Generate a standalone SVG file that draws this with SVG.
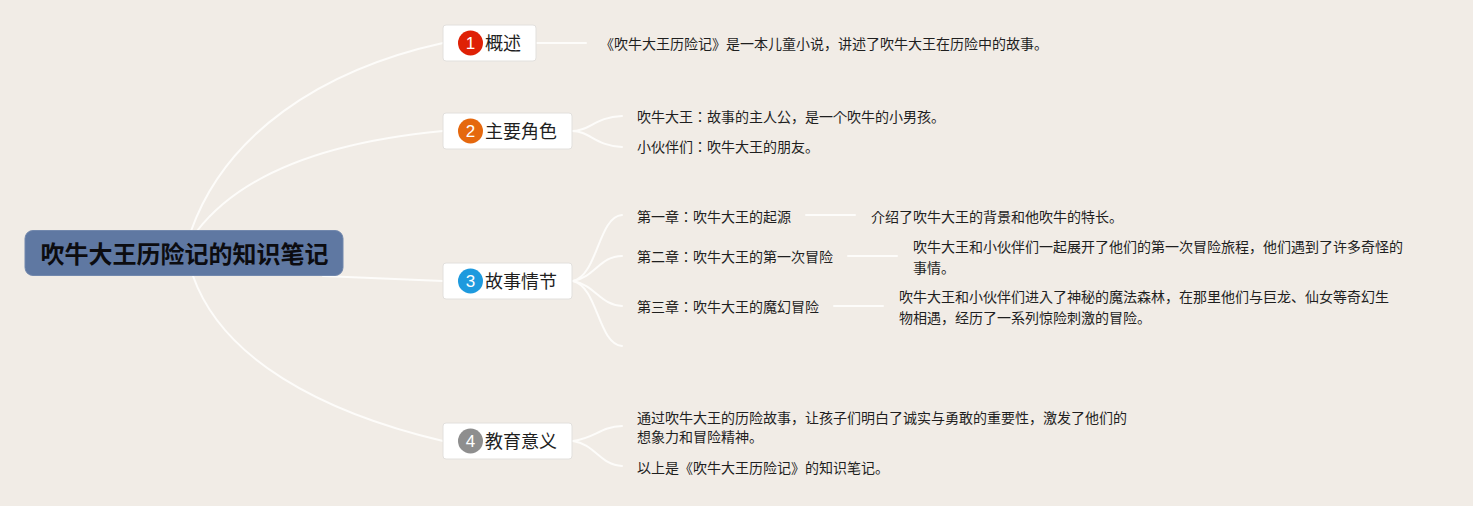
<svg xmlns="http://www.w3.org/2000/svg" width="1473" height="506" viewBox="0 0 1473 506">
<style>
text{font-family:"Noto Sans CJK JP","Noto Sans",sans-serif;fill:#1f1f1f}
.c{fill:none;stroke:#fdfcfa;stroke-width:2;stroke-linecap:round}
.box{fill:#fff;stroke:#e2e0dd;stroke-width:1}
.t{font-size:18px}
.s{font-size:14px}
.n{font-size:17px;fill:#fff;text-anchor:middle;font-family:"Liberation Sans",sans-serif}
</style>
<rect width="1473" height="506" fill="#f1ece6"/>
<g id="connectors">
<path class="c" d="M191 231C225 135 320 70 443 43"/>
<path class="c" d="M197 231C238 178 315 143 443 131"/>
<path class="c" d="M323 276L443 281"/>
<path class="c" d="M193 276C222 358 320 412 443 441"/>
<path class="c" d="M537 43H586"/>
<path class="c" d="M572 131C590 131 595 117 622 116"/>
<path class="c" d="M572 131C590 131 595 146 622 147"/>
<path class="c" d="M573 281C598 275 598 217 622 215"/>
<path class="c" d="M573 281C595 277 600 256 622 256"/>
<path class="c" d="M573 281C595 285 600 305 622 306"/>
<path class="c" d="M573 281C598 287 598 344 622 346"/>
<path class="c" d="M806 215H855"/>
<path class="c" d="M848 256H897"/>
<path class="c" d="M834 306H883"/>
<path class="c" d="M573 441C595 438 600 427 622 426"/>
<path class="c" d="M573 441C595 444 600 465 622 466"/>
</g>
<g id="root">
<rect x="25" y="230.500" width="318" height="45" rx="8" fill="#5f78a2" stroke="#7288ad"/>
<text x="184.500" y="263" font-size="24px" font-weight="700" text-anchor="middle" style="fill:#0c0c10">吹牛大王历险记的知识笔记</text>
</g>
<g id="topic1">
<rect class="box" x="443" y="25" width="93" height="36" rx="3"/>
<circle cx="470.500" cy="43" r="12.500" fill="#df2106"/>
<text class="n" x="470.500" y="49">1</text>
<text class="t" x="485" y="50">概述</text>
</g>
<g id="topic2">
<rect class="box" x="443" y="113" width="129" height="36" rx="3"/>
<circle cx="470.500" cy="131" r="12.500" fill="#e5680e"/>
<text class="n" x="470.500" y="137">2</text>
<text class="t" x="485" y="138">主要角色</text>
</g>
<g id="topic3">
<rect class="box" x="443" y="263" width="129" height="36" rx="3"/>
<circle cx="470.500" cy="281" r="12.500" fill="#1e9ade"/>
<text class="n" x="470.500" y="287">3</text>
<text class="t" x="485" y="288">故事情节</text>
</g>
<g id="topic4">
<rect class="box" x="443" y="423" width="129" height="36" rx="3"/>
<circle cx="470.500" cy="441" r="12.500" fill="#8e8e8e"/>
<text class="n" x="470.500" y="447">4</text>
<text class="t" x="485" y="448">教育意义</text>
</g>
<g id="overview-note"><text class="s" x="600" y="49">《吹牛大王历险记》是一本儿童小说，讲述了吹牛大王在历险中的故事。</text></g>
<g id="role1"><text class="s" x="637" y="122">吹牛大王：故事的主人公，是一个吹牛的小男孩。</text></g>
<g id="role2"><text class="s" x="637" y="152">小伙伴们：吹牛大王的朋友。</text></g>
<g id="chapter1"><text class="s" x="637" y="222">第一章：吹牛大王的起源</text></g>
<g id="chapter1-note"><text class="s" x="871" y="222">介绍了吹牛大王的背景和他吹牛的特长。</text></g>
<g id="chapter2"><text class="s" x="637" y="262">第二章：吹牛大王的第一次冒险</text></g>
<g id="chapter2-note"><text class="s" x="913" y="252">吹牛大王和小伙伴们一起展开了他们的第一次冒险旅程，他们遇到了许多奇怪的</text><text class="s" x="913" y="273">事情。</text></g>
<g id="chapter3"><text class="s" x="637" y="312">第三章：吹牛大王的魔幻冒险</text></g>
<g id="chapter3-note"><text class="s" x="899" y="302">吹牛大王和小伙伴们进入了神秘的魔法森林，在那里他们与巨龙、仙女等奇幻生</text><text class="s" x="899" y="323">物相遇，经历了一系列惊险刺激的冒险。</text></g>
<g id="meaning1"><text class="s" x="637" y="423">通过吹牛大王的历险故事，让孩子们明白了诚实与勇敢的重要性，激发了他们的</text><text class="s" x="637" y="442">想象力和冒险精神。</text></g>
<g id="meaning2"><text class="s" x="637" y="473">以上是《吹牛大王历险记》的知识笔记。</text></g>
</svg>
